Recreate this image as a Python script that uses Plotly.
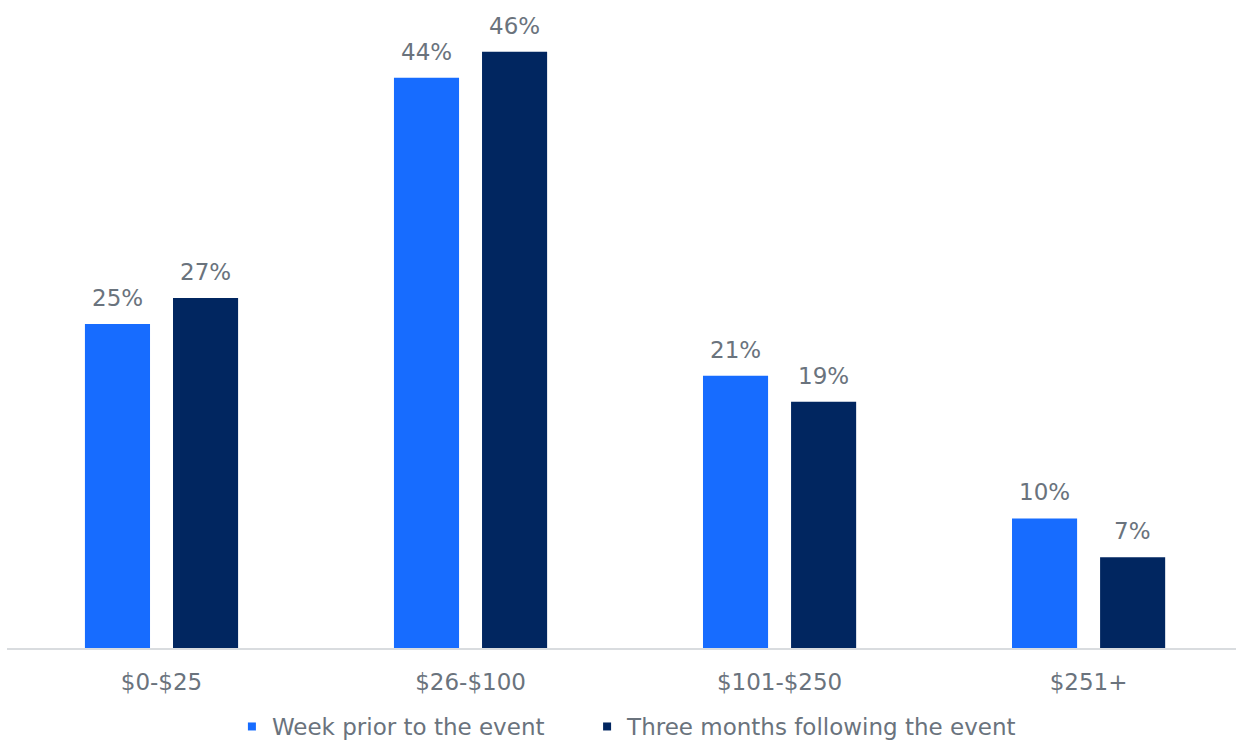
import plotly.graph_objects as go

categories = ["$0-$25", "$26-$100", "$101-$250", "$251+"]
week_prior = [25, 44, 21, 10]
three_months = [27, 46, 19, 7]
series_names = ["Week prior to the event", "Three months following the event"]

FONT = "DejaVu Sans"
FSIZE = 23
TEXT_GRAY = "#6a737d"
COLORS = ["#176cff", "#012660"]
BAR_SHIFT = 44  # px from category centre to each bar centre
LEGENDS = ["legend", "legend2"]

fig = go.Figure()
for name, vals, color in zip(series_names, [week_prior, three_months], COLORS):
    fig.add_trace(go.Bar(
        x=categories, y=vals, name=name, legendgroup=name, showlegend=False,
        marker=dict(color=color, line=dict(width=0)),
    ))
# small square legend keys, one legend box per series
for name, color, lg in zip(series_names, COLORS, LEGENDS):
    fig.add_trace(go.Scatter(
        x=[None], y=[None], name=name, legendgroup=name, mode="markers",
        marker=dict(symbol="square", size=8, color=color), legend=lg,
    ))

# value labels above each bar
for sign, vals in [(-1, week_prior), (1, three_months)]:
    for cat, v in zip(categories, vals):
        fig.add_annotation(
            x=cat, y=v, xref="x", yref="y", text=f"{v}%",
            showarrow=False, yanchor="bottom", xshift=sign * BAR_SHIFT, yshift=11,
            font=dict(family=FONT, size=FSIZE, color=TEXT_GRAY),
        )

legend_style = dict(orientation="h", xanchor="left", y=-0.088, yanchor="top",
                    font=dict(family=FONT, size=FSIZE, color=TEXT_GRAY),
                    itemwidth=30, bgcolor="rgba(0,0,0,0)")

fig.update_layout(
    width=1236, height=742,
    margin=dict(l=7, r=0, t=0, b=94, autoexpand=False),
    paper_bgcolor="white", plot_bgcolor="white",
    barmode="group", bargap=0.43, bargroupgap=0.261,
    font=dict(family=FONT, size=FSIZE, color=TEXT_GRAY),
    xaxis=dict(range=[-0.5, 3.477], showgrid=False, showline=True,
               linecolor="#d9dcdf", linewidth=2, automargin=False,
               ticks="outside", ticklen=12, tickcolor="rgba(0,0,0,0)",
               tickfont=dict(family=FONT, size=FSIZE, color=TEXT_GRAY)),
    yaxis=dict(range=[0, 50], visible=False, automargin=False),
    legend=dict(x=0.183, **legend_style),
    legend2=dict(x=0.472, **legend_style),
    showlegend=True,
)

fig.write_html("out.html")
